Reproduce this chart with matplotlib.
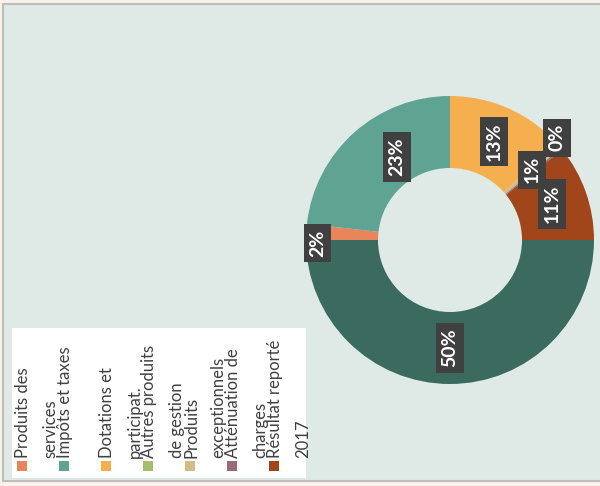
import numpy as np
import matplotlib
matplotlib.use("Agg")
import matplotlib.pyplot as plt
from matplotlib.patches import Rectangle

# Budget breakdown (half donut: last slice is the total filler)
categories = [
    "Produits des\nservices",
    "Impôts et taxes",
    "Dotations et\nparticipat.",
    "Autres produits\nde gestion",
    "Produits\nexceptionnels",
    "Atténuation de\ncharges",
    "Résultat reporté\n2017",
]
values = [1.8, 23.2, 13.4, 0.0, 0.6, 0.2, 10.8]
total_share = 50.0
colors = ["#E8855B", "#5FA393", "#F5AF4F", "#A5BE6E", "#D5BC87", "#9A6A7B", "#A0461A"]
total_color = "#3B6B5E"

# small manual label nudges (radius, angle shift in degrees), as in the source chart
label_nudge = {0: (0.92, 4.5), 1: (0.684, -9.2), 5: (1.03, 4.4)}

W, H = 600, 486
plt.rcParams["font.family"] = ["Lato", "DejaVu Sans"]

fig = plt.figure(figsize=(W / 100, H / 100), dpi=100)
fig.patch.set_facecolor("#F8F2EA")

# chart area frame
frame = Rectangle((3 / W, (H - 481) / H), 600 / W, 477 / H, transform=fig.transFigure,
                  facecolor="#DFEAE7", edgecolor="#BDBDBD", linewidth=1.5, zorder=-5)
fig.patches.append(frame)

# donut axes: centre (450, 240) px, radius 144 px
cx, cy, r = 450, H - 240, 144
ax = fig.add_axes([(cx - r) / W, (cy - r) / H, 2 * r / W, 2 * r / H])

all_vals = values + [total_share]
all_cols = colors + [total_color]
wedges, _ = ax.pie(all_vals, colors=all_cols, startangle=180, counterclock=False,
                   radius=1.0, wedgeprops=dict(width=0.5, linewidth=0))
ax.set_xlim(-1, 1)
ax.set_ylim(-1, 1)
ax.axis("off")

for i, (w, v) in enumerate(zip(wedges, all_vals)):
    if v <= 0:
        continue
    mid = (w.theta1 + w.theta2) / 2
    rr, shift = label_nudge.get(i, (0.75, 0.0))
    ang = np.deg2rad(mid + shift)
    ax.text(rr * np.cos(ang), rr * np.sin(ang), f"{v / sum(all_vals) * 100:.0f}%",
            rotation=90, ha="center", va="center", color="white", fontsize=14,
            fontweight="bold", clip_on=False,
            bbox=dict(boxstyle="square,pad=0.28", facecolor="#404040", edgecolor="none"))

# legend (rotated, drawn by hand like the source)
leg = Rectangle((12 / W, (H - 478) / H), 294 / W, 150 / H, transform=fig.transFigure,
                facecolor="white", edgecolor="none", zorder=1)
fig.patches.append(leg)
for i, (name, col) in enumerate(zip(categories, colors)):
    x0 = 17 + i * 42
    fig.patches.append(Rectangle((x0 / W, (H - 471) / H), 10 / W, 10 / H,
                                 transform=fig.transFigure, facecolor=col,
                                 edgecolor="none", zorder=2))
    fig.text((x0 - 2) / W, (H - 458) / H, name, rotation=90, ha="left", va="bottom",
             fontsize=12, color="#404040", linespacing=1.9, zorder=3)

fig.savefig("out.png", dpi=100, facecolor=fig.get_facecolor())
